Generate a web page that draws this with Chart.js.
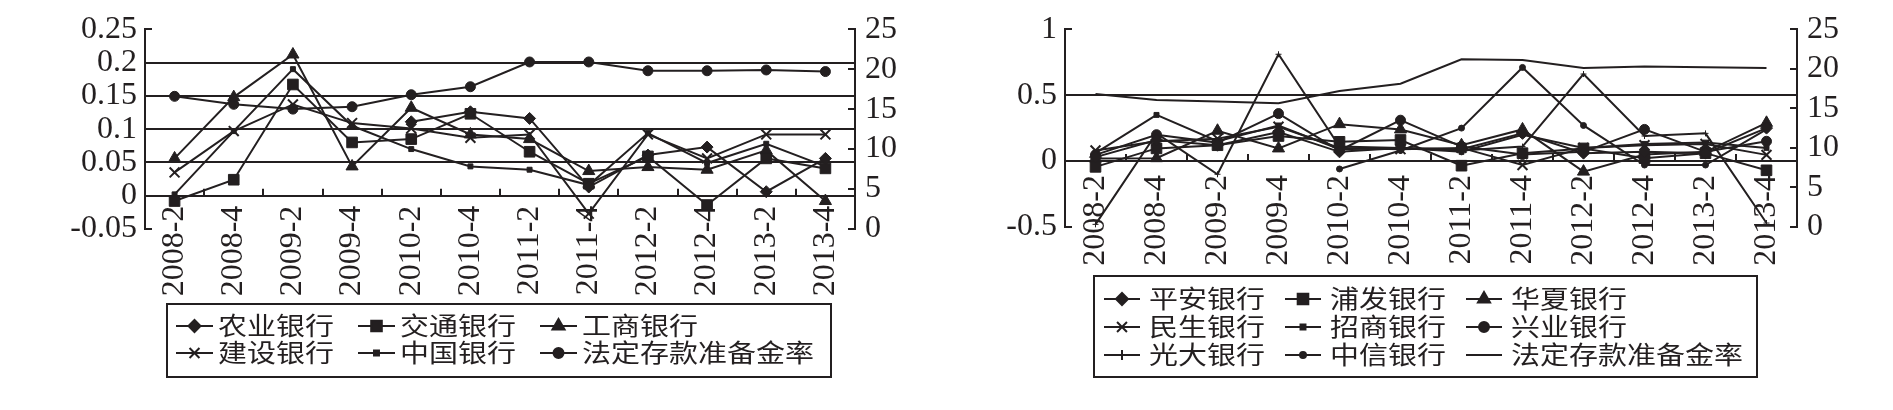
<!DOCTYPE html>
<html>
<head>
<meta charset="utf-8">
<script src="https://cdn.jsdelivr.net/npm/chart.js@4.4.0/dist/chart.umd.min.js"></script>
<style>
  body { margin: 0; background: #fff; width: 1893px; height: 410px; overflow: hidden; }
  canvas { position: absolute; top: 0; }
  #left-chart { left: 0; }
  #right-chart { left: 945px; }
</style>
</head>
<body>
<canvas id="left-chart" width="945" height="410"></canvas>
<canvas id="right-chart" width="948" height="410"></canvas>
<script>
// quarters shared by both panels
const quarters = ['2008-2', '2008-4', '2009-2', '2009-4', '2010-2', '2010-4',
                  '2011-2', '2011-4', '2012-2', '2012-4', '2013-2', '2013-4'];

// left panel: big state banks (left axis) + reserve ratio (right axis, %)
const nongye   = [null, null, null, null, 0.111, 0.126, 0.116, 0.013, 0.061, 0.073, 0.006, 0.056];
const jiaotong = [-0.008, 0.024, 0.167, 0.080, 0.085, 0.123, 0.066, 0.018, 0.059, -0.014, 0.056, 0.041];
const gongshang = [0.056, 0.148, 0.212, 0.044, 0.132, 0.092, 0.085, 0.037, 0.043, 0.039, 0.068, -0.008];
const jianshe  = [0.035, 0.097, 0.137, 0.109, 0.101, 0.087, 0.092, -0.027, 0.092, 0.056, 0.092, 0.092];
const zhongguo = [0.002, 0.097, 0.190, 0.105, 0.070, 0.044, 0.039, 0.016, 0.094, 0.049, 0.078, 0.044];
const reserveLeft = [16.6, 15.6, 15.0, 15.3, 16.8, 17.8, 20.9, 20.9, 19.8, 19.8, 19.9, 19.7];
const leftTicks = [-0.05, 0.25, 0.05];   // min, max, step
const rateTicks = [0, 25, 5];

// right panel: joint-stock banks
const pingan   = [0.03, 0.16, 0.12, 0.22, 0.07, 0.10, 0.09, 0.21, 0.06, 0.07, 0.06, 0.25];
const pufa     = [-0.044, 0.096, 0.12, 0.19, 0.146, 0.16, -0.035, 0.06, 0.096, 0.022, 0.06, -0.07];
const huaxia   = [0.02, 0.022, 0.23, 0.096, 0.28, 0.24, 0.12, 0.24, -0.08, 0.05, 0.07, 0.29];
const minsheng = [0.08, 0.15, 0.17, 0.26, 0.10, 0.09, 0.10, -0.03, 0.10, 0.12, 0.13, 0.047];
const zhaoshang = [0.06, 0.35, 0.15, 0.27, 0.09, 0.10, 0.07, 0.20, 0.10, 0.13, 0.14, 0.10];
const xingye   = [0.047, 0.20, 0.14, 0.36, 0.08, 0.31, 0.11, 0.05, 0.07, 0.24, 0.07, 0.15];
const guangda  = [-0.48, 0.21, -0.10, 0.81, 0.11, 0.10, 0.08, 0.11, 0.66, 0.19, 0.21, -0.47];
const zhongxin = [null, null, null, null, -0.06, 0.08, 0.25, 0.71, 0.27, -0.03, -0.03, 0.24];
const reserveRight = [16.8, 16.05, 15.85, 15.65, 17.2, 18.1, 21.2, 21.1, 20.1, 20.3, 20.2, 20.1];
const rightTicks = [-0.5, 1, 0.5];

const ink = '#231f20';
const tickFont = { family: "'Liberation Serif', 'Times New Roman', serif", size: 32 };

function series(label, data, style, radius, axis) {
    return {
        label: label,
        data: data,
        yAxisID: axis || 'y',
        borderColor: ink,
        backgroundColor: ink,
        borderWidth: 2,
        pointStyle: style,
        pointRadius: radius,
        pointBackgroundColor: ink,
        pointBorderColor: ink,
        pointBorderWidth: style === 'crossRot' ? 2 : 1,
        tension: 0,
        clip: false
    };
}

function fmt(v) {
    return String(Number(v.toFixed(2)));
}

// short tick marks pointing into the plot
const innerTicks = {
    id: 'innerTicks',
    afterDraw(chart) {
        const ctx = chart.ctx;
        const x = chart.scales.x, y = chart.scales.y, y1 = chart.scales.y1;
        ctx.save();
        ctx.strokeStyle = ink;
        ctx.lineWidth = 2;
        ctx.beginPath();
        y.ticks.forEach(t => {
            const p = Math.round(y.getPixelForValue(t.value));
            ctx.moveTo(y.right, p); ctx.lineTo(y.right + 7, p);
        });
        y1.ticks.forEach(t => {
            const p = Math.round(y1.getPixelForValue(t.value));
            ctx.moveTo(y1.left, p); ctx.lineTo(y1.left - 7, p);
        });
        const zero = y.getPixelForValue(0);
        for (let i = 1; i < x.ticks.length; i++) {
            const p = Math.round((x.getPixelForValue(i - 1) + x.getPixelForValue(i)) / 2);
            ctx.moveTo(p, zero); ctx.lineTo(p, zero - 7);
        }
        ctx.stroke();
        ctx.restore();
    }
};

// framed legend in a 3-column grid
const boxLegend = {
    id: 'boxLegend',
    afterDraw(chart, args, opts) {
        const ctx = chart.ctx;
        const b = opts.box;
        ctx.save();
        ctx.strokeStyle = ink;
        ctx.fillStyle = ink;
        ctx.lineWidth = 2;
        ctx.strokeRect(b[0], b[1], b[2] - b[0], b[3] - b[1]);
        chart.data.datasets.forEach((ds, i) => {
            const cx = opts.cols[i % 3];
            const cy = opts.rows[Math.floor(i / 3)];
            ctx.beginPath();
            ctx.moveTo(cx, cy);
            ctx.lineTo(cx + opts.lineLen, cy);
            ctx.stroke();
            if (ds.pointRadius > 0) {
                Chart.helpers.drawPoint(ctx, {
                    pointStyle: ds.pointStyle,
                    radius: ds.pointStyle === 'cross' ? 5 : ds.pointRadius,
                    rotation: 0,
                    borderWidth: ds.pointBorderWidth
                }, cx + opts.lineLen / 2, cy);
            }
            ctx.save();
            ctx.translate(cx + opts.textGap, cy);
            ctx.scale(1, 0.85);
            ctx.font = "29px 'Noto Sans CJK SC'";
            ctx.textBaseline = 'middle';
            ctx.fillText(ds.label, 0, 0);
            ctx.restore();
        });
        ctx.restore();
    }
};

function makeOptions(range, padTop, padBottom, leftW, rightW, labelPad, legend) {
    return {
        responsive: false,
        animation: false,
        layout: { padding: { top: padTop, bottom: padBottom, left: 0, right: 0 } },
        scales: {
            x: {
                type: 'category',
                position: { y: 0 },
                offset: true,
                grid: { drawOnChartArea: false, drawTicks: false },
                border: { color: ink, width: 2 },
                ticks: { minRotation: 90, maxRotation: 90, autoSkip: false, padding: labelPad, font: tickFont, color: ink }
            },
            y: {
                position: 'left',
                min: range[0], max: range[1],
                ticks: { stepSize: range[2], autoSkip: false, padding: 8, font: tickFont, color: ink, callback: v => fmt(v) },
                grid: {
                    drawTicks: false,
                    lineWidth: 2,
                    color: c => (c.tick && c.tick.value > range[0] + 1e-6 && c.tick.value < range[1] - 1e-6) ? ink : 'rgba(0,0,0,0)'
                },
                border: { color: ink, width: 2 },
                afterFit: s => { s.width = leftW; }
            },
            y1: {
                position: 'right',
                min: rateTicks[0], max: rateTicks[1],
                ticks: { stepSize: rateTicks[2], autoSkip: false, padding: 10, font: tickFont, color: ink },
                grid: { drawOnChartArea: false, drawTicks: false },
                border: { color: ink, width: 2 },
                afterFit: s => { s.width = rightW; }
            }
        },
        plugins: {
            legend: { display: false },
            tooltip: { enabled: false },
            boxLegend: legend
        }
    };
}

const leftChart = new Chart(document.getElementById('left-chart'), {
    type: 'line',
    data: {
        labels: quarters,
        datasets: [
            series('农业银行', nongye, 'rectRot', 6),
            series('交通银行', jiaotong, 'rect', 7.5),
            series('工商银行', gongshang, 'triangle', 7),
            series('建设银行', jianshe, 'crossRot', 7),
            series('中国银行', zhongguo, 'rect', 3.5),
            series('法定存款准备金率', reserveLeft, 'circle', 5, 'y1')
        ]
    },
    options: makeOptions(leftTicks, 20, 181, 145, 90, 10, {
        box: [167, 304, 831, 377],
        cols: [176, 358, 540],
        rows: [326, 353],
        lineLen: 37,
        textGap: 42
    }),
    plugins: [innerTicks, boxLegend]
});

const rightChart = new Chart(document.getElementById('right-chart'), {
    type: 'line',
    data: {
        labels: quarters,
        datasets: [
            series('平安银行', pingan, 'rectRot', 6),
            series('浦发银行', pufa, 'rect', 7.5),
            series('华夏银行', huaxia, 'triangle', 7),
            series('民生银行', minsheng, 'crossRot', 7),
            series('招商银行', zhaoshang, 'rect', 3.5),
            series('兴业银行', xingye, 'circle', 5),
            series('光大银行', guangda, 'cross', 3),
            series('中信银行', zhongxin, 'circle', 3),
            series('法定存款准备金率', reserveRight, 'circle', 0, 'y1')
        ]
    },
    options: makeOptions(rightTicks, 23, 183, 120, 96, 14, {
        box: [149, 276, 812, 377],
        cols: [159, 340, 521],
        rows: [299, 327, 355],
        lineLen: 36,
        textGap: 45
    }),
    plugins: [innerTicks, boxLegend]
});
</script>
</body>
</html>
